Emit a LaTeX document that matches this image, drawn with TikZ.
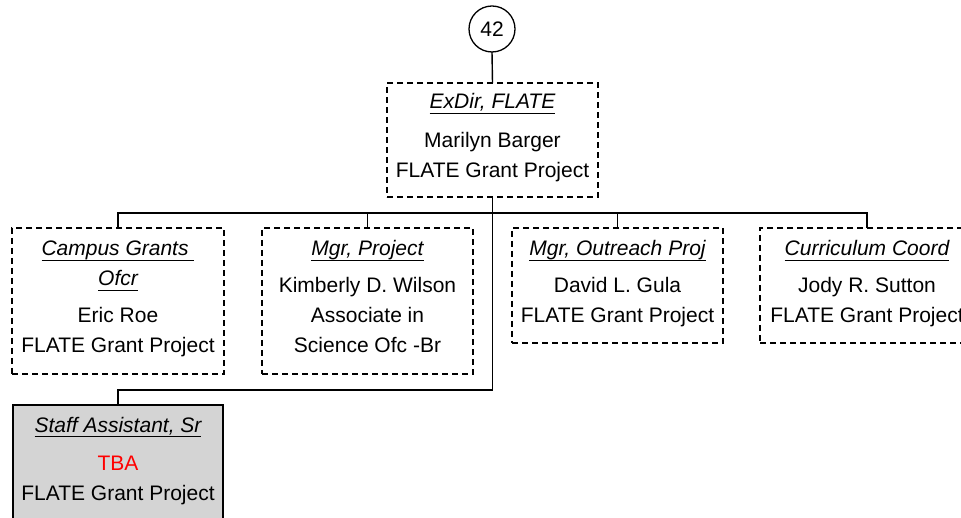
\documentclass[tikz,border=0pt]{standalone}
\usepackage{fontspec}
\setmainfont{Liberation Sans}
\newcommand\ulit[1]{\setbox0\hbox{\itshape #1}\rlap{\rule[-5pt]{\wd0}{1.4pt}}\box0}
\definecolor{boxgray}{HTML}{D4D4D4}
\begin{document}
\begin{tikzpicture}[x=1pt,y=-1pt,
  dbox/.style={draw, line width=1.2pt, dash pattern=on 6pt off 4pt, outer sep=0pt, inner sep=0pt},
  sbox/.style={draw, line width=1.3pt, fill=boxgray, outer sep=0pt, inner sep=0pt},
  txt/.style={anchor=base, inner sep=0pt, font=\fontsize{21}{25}\selectfont},
  conn/.style={line width=1.4pt}]
\useasboundingbox (0,0) rectangle (961,518);
\clip (0,0) rectangle (961,518);
% circle
\node[draw, circle, line width=1.3pt, minimum size=46pt, inner sep=0pt, outer sep=0pt,
  font=\fontsize{21}{25}\selectfont] (c42) at (492,29) {42};
% boxes
\node[dbox, minimum width=211pt, minimum height=114pt] (top) at (492.5,140) {};
\node[dbox, minimum width=212pt, minimum height=146pt] (b1) at (118,301) {};
\node[dbox, minimum width=211pt, minimum height=146pt] (b2) at (367.5,301) {};
\node[dbox, minimum width=211pt, minimum height=115pt] (b3) at (617.5,285.5) {};
\node[dbox, minimum width=214pt, minimum height=115pt] (b4) at (867,285.5) {};
\node[sbox, minimum width=210pt, minimum height=130pt] (bot) at (118,470) {};
% helper coordinates
\coordinate (bus) at (0,213);
\coordinate (trunk) at (0,390);
% connectors
\draw[conn] (c42.south) -- (top.north);
\draw[conn] (top.south) -- (top.south |- trunk) -| (bot.north);
\draw[conn] (b1.north) |- (b4.north |- bus) -- (b4.north);
\draw[conn] (b2.north) -- (b2.north |- bus);
\draw[conn] (b3.north) -- (b3.north |- bus);
% texts: top
\node[txt] (t1) at (492.5,109) {\ulit{ExDir, FLATE}};
\node[txt] (t2) at (492.5,148) {Marilyn Barger};
\node[txt] (t3) at (492.5,178) {FLATE Grant Project};
% box1
\node[txt] (a1) at (118,256) {\ulit{Campus Grants\ }};
\node[txt] (a2) at (118,286) {\ulit{Ofcr}};
\node[txt] (a3) at (118,323) {Eric Roe};
\node[txt] (a4) at (118,353) {FLATE Grant Project};
% box2
\node[txt] (k1) at (367.5,256) {\ulit{Mgr, Project}};
\node[txt] (k2) at (367.5,293) {Kimberly D. Wilson};
\node[txt] (k3) at (367.5,323) {Associate in};
\node[txt] (k4) at (367.5,353) {Science Ofc -Br};
% box3
\node[txt] (d1) at (617.5,256) {\ulit{Mgr, Outreach Proj}};
\node[txt] (d2) at (617.5,293) {David L. Gula};
\node[txt] (d3) at (617.5,323) {FLATE Grant Project};
% box4
\node[txt] (j1) at (867,256) {\ulit{Curriculum Coord}};
\node[txt] (j2) at (867,293) {Jody R. Sutton};
\node[txt] (j3) at (867,323) {FLATE Grant Project};
% bottom
\node[txt] (s1) at (118,432) {\ulit{Staff Assistant, Sr}};
\node[txt, text=red] (s2) at (118,470) {TBA};
\node[txt] (s3) at (118,500) {FLATE Grant Project};
\end{tikzpicture}
\end{document}
